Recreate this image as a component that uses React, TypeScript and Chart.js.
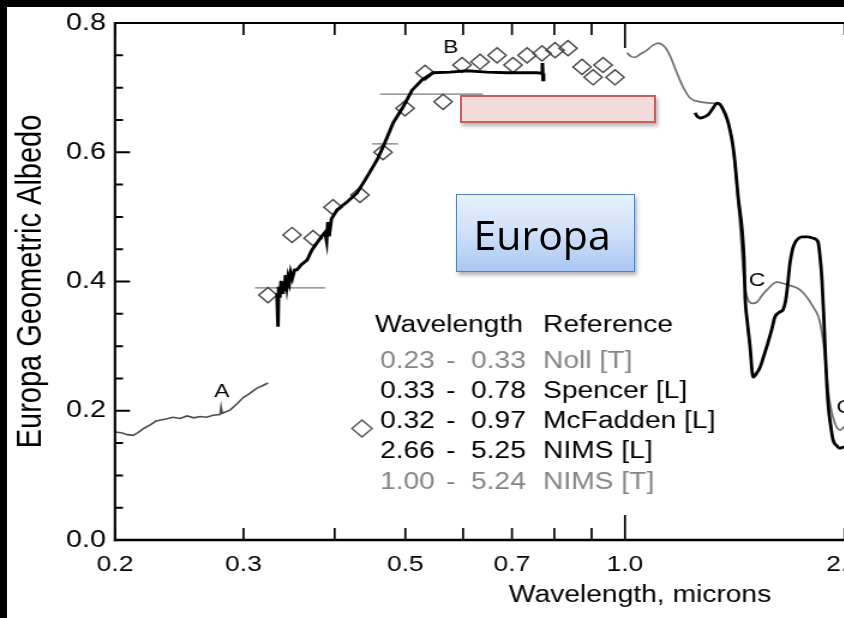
import React, { useEffect, useRef } from "react";
import { Chart, registerables } from "chart.js";

Chart.register(...registerables);

// ---------- data ----------
const NOLL_X = [0.2, 0.204, 0.208, 0.2117, 0.215, 0.2192, 0.2235, 0.2276, 0.234, 0.2401, 0.2455, 0.251, 0.2565, 0.2615, 0.267, 0.2725, 0.2786, 0.2795, 0.2805, 0.2875, 0.2935, 0.2995, 0.306, 0.313, 0.319, 0.3241];
const NOLL_Y = [0.167, 0.166, 0.163, 0.162, 0.166, 0.173, 0.178, 0.184, 0.187, 0.19, 0.188, 0.192, 0.189, 0.191, 0.19, 0.193, 0.194, 0.206, 0.196, 0.201, 0.21, 0.22, 0.227, 0.235, 0.239, 0.243];

const SPENCER_X = [0.3334, 0.3345, 0.3352, 0.3365, 0.3378, 0.339, 0.3399, 0.3412, 0.3425, 0.344, 0.3453, 0.3468, 0.3482, 0.35, 0.3525, 0.3552, 0.36, 0.3666, 0.372, 0.3784, 0.384, 0.388, 0.39, 0.3915, 0.393, 0.396, 0.403, 0.4159, 0.4293, 0.443, 0.4572, 0.466, 0.4809, 0.4963, 0.5107, 0.5271, 0.5457, 0.5758, 0.6075, 0.6471, 0.6891, 0.7181, 0.7577, 0.769, 0.7705, 0.7721, 0.7735];
const SPENCER_Y = [0.382, 0.33, 0.392, 0.375, 0.401, 0.383, 0.398, 0.385, 0.41, 0.392, 0.407, 0.398, 0.414, 0.405, 0.418, 0.418, 0.426, 0.433, 0.448, 0.46, 0.47, 0.476, 0.462, 0.492, 0.47, 0.497, 0.511, 0.523, 0.537, 0.562, 0.588, 0.608, 0.645, 0.67, 0.696, 0.712, 0.723, 0.724, 0.726, 0.724, 0.723, 0.723, 0.723, 0.722, 0.738, 0.712, 0.722];

const MCFADDEN_X = [0.3241, 0.3497, 0.3736, 0.3979, 0.4333, 0.466, 0.4995, 0.5321, 0.5632, 0.5979, 0.6329, 0.6678, 0.7023, 0.7341, 0.7696, 0.8019, 0.8354, 0.8732, 0.9041, 0.9331, 0.9691];
const MCFADDEN_Y = [0.379, 0.472, 0.467, 0.515, 0.534, 0.6, 0.668, 0.723, 0.678, 0.735, 0.74, 0.75, 0.735, 0.75, 0.753, 0.758, 0.761, 0.732, 0.716, 0.735, 0.716];

const NIMS_T_X = [1.006, 1.02, 1.032, 1.05, 1.072, 1.09, 1.11, 1.126, 1.142, 1.157, 1.171, 1.186, 1.201, 1.228, 1.267, 1.316, 1.35, 1.371, 1.402, 1.424, 1.442, 1.456, 1.474, 1.495, 1.517, 1.54, 1.565, 1.615, 1.668, 1.738, 1.81, 1.851, 1.88, 1.898, 1.928, 1.971, 1.996, 2.05, 2.1];
const NIMS_T_Y = [0.754, 0.748, 0.747, 0.752, 0.758, 0.765, 0.769, 0.766, 0.758, 0.745, 0.73, 0.715, 0.701, 0.684, 0.678, 0.676, 0.673, 0.658, 0.619, 0.542, 0.464, 0.402, 0.372, 0.366, 0.368, 0.378, 0.387, 0.399, 0.395, 0.387, 0.361, 0.336, 0.283, 0.232, 0.19, 0.17, 0.175, 0.18, 0.19];

const NIMS_L_X = [1.247, 1.257, 1.267, 1.285, 1.3, 1.318, 1.337, 1.35, 1.363, 1.38, 1.393, 1.405, 1.415, 1.429, 1.447, 1.456, 1.461, 1.472, 1.484, 1.498, 1.515, 1.531, 1.55, 1.57, 1.59, 1.605, 1.631, 1.646, 1.66, 1.668, 1.683, 1.697, 1.71, 1.73, 1.749, 1.78, 1.81, 1.839, 1.85, 1.862, 1.872, 1.88, 1.898, 1.915, 1.928, 1.95, 1.971, 1.996, 2.05, 2.1];
const NIMS_L_Y = [0.661, 0.655, 0.653, 0.655, 0.658, 0.667, 0.676, 0.674, 0.666, 0.652, 0.634, 0.612, 0.584, 0.531, 0.48, 0.433, 0.376, 0.335, 0.299, 0.252, 0.258, 0.267, 0.285, 0.305, 0.327, 0.345, 0.353, 0.356, 0.37, 0.387, 0.428, 0.45, 0.46, 0.467, 0.469, 0.469, 0.467, 0.461, 0.44, 0.402, 0.35, 0.299, 0.212, 0.175, 0.155, 0.146, 0.142, 0.144, 0.15, 0.16];

// horizontal bars (x range, level)
const BAR_X0 = [0.3111, 0.45, 0.4615];
const BAR_X1 = [0.388, 0.4886, 0.6389];
const BAR_Y = [0.39, 0.613, 0.69];

// axis ticks
const X_TICKS = [0.2, 0.3, 0.4, 0.5, 0.6, 0.7, 0.8, 0.9, 1, 2, 3, 4, 5];
const X_LABELED = [0.2, 0.3, 0.5, 0.7, 1, 2, 3, 5];
const X_LONG = [1];
const Y_TICKS = [0, 0.05, 0.1, 0.15, 0.2, 0.25, 0.3, 0.35, 0.4, 0.45, 0.5, 0.55, 0.6, 0.65, 0.7, 0.75, 0.8];
const Y_LABELED = [0, 0.2, 0.4, 0.6, 0.8];

// letters on curves
const LETTERS = ["A", "B", "C", "C"];
const LETTER_X = [0.2801, 0.5767, 1.517, 2.0];
const LETTER_Y = [0.2295, 0.762, 0.401, 0.204];

// legend table
const LEGEND_FROM = ["0.23", "0.33", "0.32", "2.66", "1.00"];
const LEGEND_TO = ["0.33", "0.78", "0.97", "5.25", "5.24"];
const LEGEND_REF = ["Noll [T]", "Spencer [L]", "McFadden [L]", "NIMS [L]", "NIMS [T]"];
const LEGEND_GRAY = [true, false, false, false, true];

// ---------- layout constants ----------
const SX = 1.2; // horizontal stretch of the figure
const CANVAS_W = 1010;
const CANVAS_H = 618;
const FONT = '"Liberation Sans", Arial, Helvetica, sans-serif';

const pts = (xs: number[], ys: number[]) => xs.map((x, i) => ({ x, y: ys[i] }));

const decorPlugin = {
  id: "decor",
  afterDatasetsDraw(chart: any) {
    const { ctx, chartArea: a, scales } = chart;
    const xs = scales.x;
    const ys = scales.y;
    ctx.save();
    ctx.strokeStyle = "#000";
    ctx.lineCap = "butt";
    // frame
    ctx.lineWidth = 2.5;
    ctx.beginPath();
    ctx.moveTo(a.left - 1, a.bottom);
    ctx.lineTo(a.right, a.bottom);
    ctx.stroke();
    ctx.lineWidth = 1.8;
    ctx.beginPath();
    ctx.moveTo(a.left, a.top);
    ctx.lineTo(a.right, a.top);
    ctx.stroke();
    ctx.lineWidth = 2.1;
    ctx.beginPath();
    ctx.moveTo(a.left, a.top - 0.9);
    ctx.lineTo(a.left, a.bottom + 1.2);
    ctx.moveTo(a.right, a.top);
    ctx.lineTo(a.right, a.bottom);
    ctx.stroke();
    // x ticks (inward, top and bottom)
    ctx.lineWidth = 1.7;
    ctx.beginPath();
    X_TICKS.forEach((v) => {
      const px = xs.getPixelForValue(v);
      const len = X_LONG.includes(v) ? 25 : 12;
      ctx.moveTo(px, a.bottom);
      ctx.lineTo(px, a.bottom - len);
      ctx.moveTo(px, a.top);
      ctx.lineTo(px, a.top + len);
    });
    ctx.stroke();
    // y ticks
    ctx.lineWidth = 2;
    ctx.beginPath();
    Y_TICKS.forEach((v) => {
      const py = ys.getPixelForValue(v);
      const len = (Y_LABELED.includes(v) ? 15 : 8) / SX;
      ctx.moveTo(a.left, py);
      ctx.lineTo(a.left + len, py);
      ctx.moveTo(a.right, py);
      ctx.lineTo(a.right - len, py);
    });
    ctx.stroke();

    // letters
    ctx.fillStyle = "#000";
    ctx.font = `19px ${FONT}`;
    ctx.textAlign = "center";
    ctx.textBaseline = "middle";
    LETTERS.forEach((t, i) => {
      ctx.fillText(t, xs.getPixelForValue(LETTER_X[i]), ys.getPixelForValue(LETTER_Y[i]));
    });

    // legend table
    ctx.textAlign = "left";
    ctx.textBaseline = "alphabetic";
    ctx.font = `23.5px ${FONT}`;
    ctx.fillStyle = "#000";
    ctx.fillText("Wavelength", 375 / SX, 332);
    ctx.fillText("Reference", 543 / SX, 332);
    const base = [368, 398, 428, 458, 488.5];
    LEGEND_REF.forEach((ref, i) => {
      ctx.fillStyle = LEGEND_GRAY[i] ? "#858585" : "#000";
      const y = base[i];
      ctx.fillText(LEGEND_FROM[i], 380 / SX, y);
      ctx.fillText("-", 446 / SX, y);
      ctx.fillText(LEGEND_TO[i], 471 / SX, y);
      ctx.fillText(ref, 543 / SX, y);
    });
    // diamond symbol before McFadden row
    const cx = 362 / SX;
    const cy = 428.5;
    const r = 8.4;
    ctx.strokeStyle = "#555";
    ctx.lineWidth = 1.4;
    ctx.beginPath();
    ctx.moveTo(cx, cy - r);
    ctx.lineTo(cx + r, cy);
    ctx.lineTo(cx, cy + r);
    ctx.lineTo(cx - r, cy);
    ctx.closePath();
    ctx.stroke();
    ctx.restore();
  },
};

export default function App() {
  const ref = useRef<HTMLCanvasElement | null>(null);

  useEffect(() => {
    if (!ref.current) return;
    const left = 115 / SX;
    const right = left + (729.6 / SX) * Math.log10(5.5 / 0.2);
    const datasets: any[] = [
      {
        label: "Spencer [L]",
        data: pts(SPENCER_X, SPENCER_Y),
        borderColor: "#000",
        borderWidth: 2.9,
        pointRadius: 0,
        tension: 0,
      },
      {
        label: "NIMS [L]",
        data: pts(NIMS_L_X, NIMS_L_Y),
        borderColor: "#000",
        borderWidth: 2.8,
        pointRadius: 0,
        cubicInterpolationMode: "monotone",
      },
      {
        label: "McFadden [L]",
        data: pts(MCFADDEN_X, MCFADDEN_Y),
        showLine: false,
        pointStyle: "rectRot",
        pointRadius: 7.6,
        pointBorderColor: "#444",
        pointBackgroundColor: "rgba(255,255,255,0)",
        pointBorderWidth: 1.4,
        borderColor: "#444",
      },
      {
        label: "Noll [T]",
        data: pts(NOLL_X, NOLL_Y),
        borderColor: "#4a4a4a",
        borderWidth: 1.6,
        pointRadius: 0,
        tension: 0,
      },
      {
        label: "NIMS [T]",
        data: pts(NIMS_T_X, NIMS_T_Y),
        borderColor: "#6e6e6e",
        borderWidth: 1.7,
        pointRadius: 0,
        cubicInterpolationMode: "monotone",
      },
      ...BAR_Y.map((yv, i) => ({
        label: "bar" + i,
        data: [
          { x: BAR_X0[i], y: yv },
          { x: BAR_X1[i], y: yv },
        ],
        borderColor: "#7a7a7a",
        borderWidth: 1.2,
        pointRadius: 0,
      })),
    ];

    const chart = new Chart(ref.current, {
      type: "line",
      data: { datasets },
      plugins: [decorPlugin],
      options: {
        responsive: false,
        animation: false,
        devicePixelRatio: 1,
        layout: { padding: { left: 0, right: CANVAS_W - right, top: 23, bottom: 0 } },
        plugins: {
          legend: { display: false },
          tooltip: { enabled: false },
          title: { display: false },
        },
        scales: {
          x: {
            type: "logarithmic",
            min: 0.2,
            max: 5.5,
            afterBuildTicks: (s: any) => {
              s.ticks = X_TICKS.map((v) => ({ value: v }));
            },
            afterFit: (s: any) => {
              s.height = CANVAS_H - 540;
              s.paddingLeft = 0;
              s.paddingRight = 0;
            },
            grid: { display: false, drawTicks: false },
            border: { display: false },
            ticks: {
              autoSkip: false,
              maxRotation: 0,
              minRotation: 0,
              padding: 12,
              color: "#000",
              font: { family: FONT, size: 22 },
              callback: (v: any) => (X_LABELED.includes(Number(v)) ? Number(v).toFixed(1) : ""),
            },
            title: {
              display: true,
              text: "Wavelength, microns",
              color: "#000",
              font: { family: FONT, size: 23.5 },
              padding: { top: 0, bottom: 8 },
            },
          },
          y: {
            type: "linear",
            min: 0,
            max: 0.8,
            afterFit: (s: any) => {
              s.width = left;
              s.paddingTop = 0;
              s.paddingBottom = 0;
            },
            grid: { display: false, drawTicks: false },
            border: { display: false },
            ticks: {
              stepSize: 0.2,
              padding: 7.5,
              color: "#000",
              font: { family: FONT, size: 24 },
              callback: (v: any) => Number(v).toFixed(1),
            },
            title: {
              display: true,
              text: "Europa Geometric Albedo",
              color: "#000",
              font: { family: FONT, size: 29 },
              padding: { top: 9, bottom: 0 },
            },
          },
        },
      } as any,
    });
    return () => chart.destroy();
  }, []);

  return (
    <div
      style={{
        position: "fixed",
        left: 0,
        top: 0,
        width: 844,
        height: 618,
        overflow: "hidden",
        background: "#fff",
      }}
    >
      <div style={{ position: "absolute", left: 0, top: 0, width: 844, height: 7, background: "#000" }} />
      <div style={{ position: "absolute", left: 0, top: 0, width: 7, height: 618, background: "#000" }} />
      <div style={{ position: "absolute", left: 0, top: 0, transform: `scaleX(${SX})`, transformOrigin: "0 0" }}>
        <canvas ref={ref} width={CANVAS_W} height={CANVAS_H} style={{ display: "block" }} />
      </div>
      <div
        style={{
          position: "absolute",
          left: 460,
          top: 95,
          width: 196,
          height: 28,
          boxSizing: "border-box",
          background: "#f2dcdb",
          border: "2px solid #c9605c",
          boxShadow: "2px 3px 4px rgba(0,0,0,0.3)",
        }}
      />
      <div
        style={{
          position: "absolute",
          left: 456,
          top: 194,
          width: 179,
          height: 78,
          boxSizing: "border-box",
          background: "linear-gradient(180deg, #e7f0fd 0%, #cfe0f9 50%, #a9c7f3 100%)",
          border: "1.5px solid #4f81bd",
          boxShadow: "2px 3px 4px rgba(0,0,0,0.3)",
        }}
      >
        <div
          style={{
            position: "absolute",
            left: 16.5,
            top: 19,
            fontFamily: '"Open Sans", "Noto Sans", sans-serif',
            fontSize: 41,
            lineHeight: "41px",
            color: "#000",
            whiteSpace: "nowrap",
          }}
        >
          Europa
        </div>
      </div>
    </div>
  );
}
